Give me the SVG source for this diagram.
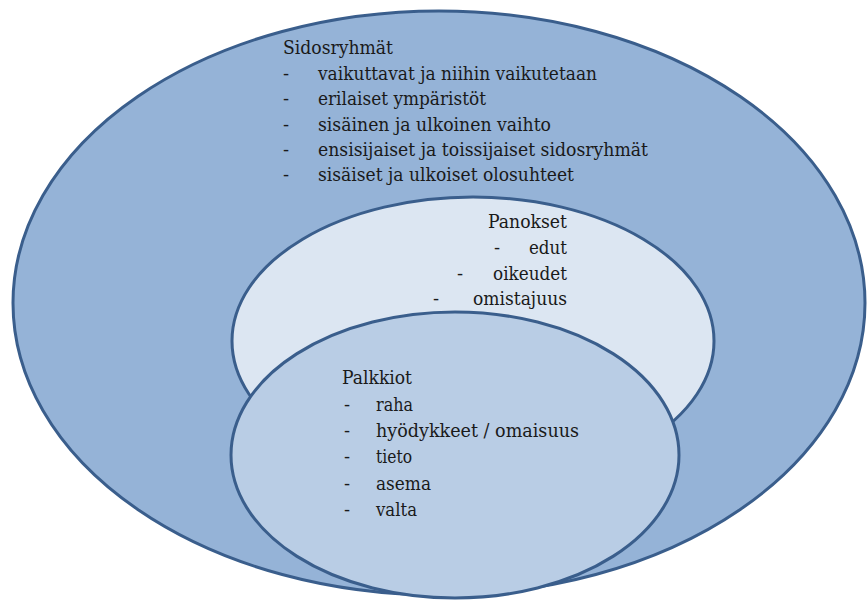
<svg xmlns="http://www.w3.org/2000/svg" width="867" height="601" viewBox="0 0 867 601">
<style>
.e{stroke:#3A5E8C;stroke-width:3}
text{font-family:'DejaVu Serif','Liberation Serif',serif;font-size:18px;fill:#1a1a1a}
</style>
<rect width="867" height="601" fill="#ffffff"/>
<g id="sidosryhmat">
<ellipse class="e" cx="439" cy="303" rx="426" ry="292" fill="#95B3D7"/>
<text x="283" y="54" textLength="110" lengthAdjust="spacingAndGlyphs">Sidosryhmät</text>
<text x="283" y="80">-</text><text x="318" y="80" textLength="279" lengthAdjust="spacingAndGlyphs">vaikuttavat ja niihin vaikutetaan</text>
<text x="283" y="105">-</text><text x="318" y="105" textLength="168" lengthAdjust="spacingAndGlyphs">erilaiset ympäristöt</text>
<text x="283" y="130.5">-</text><text x="318" y="130.5" textLength="233" lengthAdjust="spacingAndGlyphs">sisäinen ja ulkoinen vaihto</text>
<text x="283" y="155.5">-</text><text x="318" y="155.5" textLength="330" lengthAdjust="spacingAndGlyphs">ensisijaiset ja toissijaiset sidosryhmät</text>
<text x="283" y="180.5">-</text><text x="318" y="180.5" textLength="256" lengthAdjust="spacingAndGlyphs">sisäiset ja ulkoiset olosuhteet</text>
</g>
<g id="panokset">
<ellipse class="e" cx="473" cy="341" rx="241" ry="144" fill="#DCE6F2"/>
<text x="488" y="228" textLength="79" lengthAdjust="spacingAndGlyphs">Panokset</text>
<text x="494" y="254">-</text><text x="529" y="254" textLength="38" lengthAdjust="spacingAndGlyphs">edut</text>
<text x="457" y="280">-</text><text x="493" y="280" textLength="74" lengthAdjust="spacingAndGlyphs">oikeudet</text>
<text x="433" y="305">-</text><text x="473" y="305" textLength="94" lengthAdjust="spacingAndGlyphs">omistajuus</text>
</g>
<g id="palkkiot">
<ellipse class="e" cx="455" cy="455" rx="224" ry="143" fill="#B9CDE5"/>
<text x="342" y="384" textLength="70" lengthAdjust="spacingAndGlyphs">Palkkiot</text>
<text x="344" y="410.5">-</text><text x="376" y="410.5" textLength="37" lengthAdjust="spacingAndGlyphs">raha</text>
<text x="344" y="437">-</text><text x="376" y="437" textLength="203" lengthAdjust="spacingAndGlyphs">hyödykkeet / omaisuus</text>
<text x="344" y="463">-</text><text x="376" y="463" textLength="36" lengthAdjust="spacingAndGlyphs">tieto</text>
<text x="344" y="489.5">-</text><text x="376" y="489.5" textLength="55" lengthAdjust="spacingAndGlyphs">asema</text>
<text x="344" y="516">-</text><text x="376" y="516" textLength="41" lengthAdjust="spacingAndGlyphs">valta</text>
</g>
<g id="connectors"></g>
</svg>
